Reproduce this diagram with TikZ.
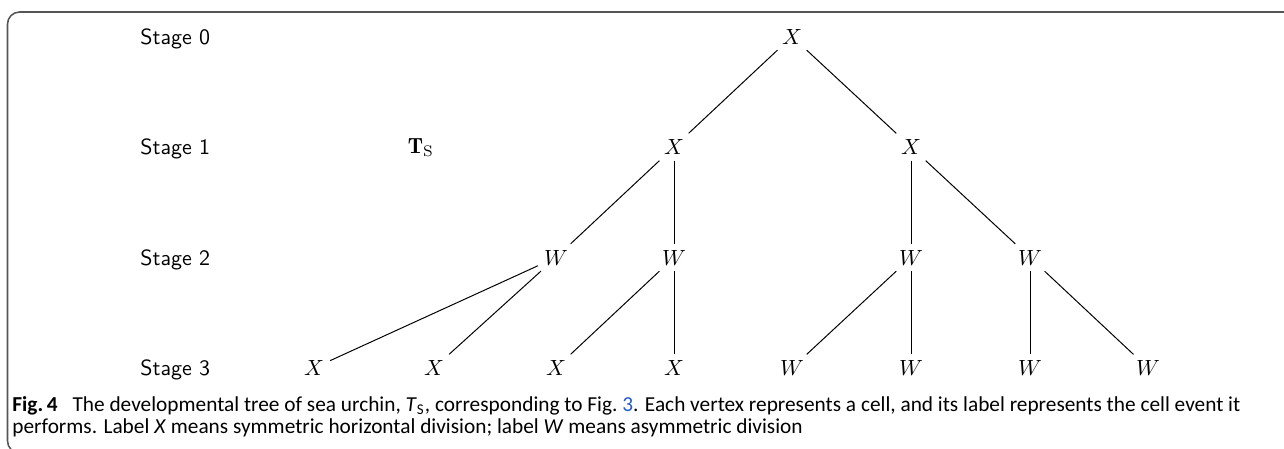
\documentclass[tikz,border=0pt]{standalone}
\usepackage{fontspec}
\newfontfamily\capfont{Carlito}
\definecolor{linkblue}{RGB}{40,90,200}
\definecolor{framegray}{RGB}{85,85,85}
\tikzset{
  vtx/.style={inner sep=2.6pt, font=\normalsize},
  stagelbl/.style={anchor=base west, inner sep=0pt, font=\sffamily},
  edge/.style={line width=0.45pt},
  caption/.style={anchor=base west, inner sep=0pt, font=\capfont\fontsize{9.7pt}{11pt}\selectfont}
}
\begin{document}
\begin{tikzpicture}[x=0.455pt,y=-0.455pt]
\useasboundingbox (0,0) rectangle (1284,448);
\begin{scope}
\clip (0,0) rectangle (1284,448);
\draw[framegray, line width=0.7pt, rounded corners=5.5pt] (1300,12) -- (7.5,12) -- (7.5,453) -- (40,453);
\end{scope}
% stage labels
\node[stagelbl] (s0) at (140,44) {Stage 0};
\node[stagelbl] (s1) at (140,154.5) {Stage 1};
\node[stagelbl] (s2) at (140,265) {Stage 2};
\node[stagelbl] (s3) at (140,375.5) {Stage 3};
\node[inner sep=0pt] (ts) at (421,148) {$\mathbf{T}_{\mathrm{S}}$};
% vertices
\node[vtx] (n0) at (792,36.5) {$X$};
\node[vtx] (n1a) at (674,147) {$X$};
\node[vtx] (n1b) at (911,147) {$X$};
\node[vtx] (n2a) at (556,257.5) {$W$};
\node[vtx] (n2b) at (674,257.5) {$W$};
\node[vtx] (n2c) at (911,257.5) {$W$};
\node[vtx] (n2d) at (1030,257.5) {$W$};
\node[vtx] (n3a) at (314,368) {$X$};
\node[vtx] (n3b) at (434,368) {$X$};
\node[vtx] (n3c) at (556,368) {$X$};
\node[vtx] (n3d) at (674,368) {$X$};
\node[vtx] (n3e) at (792,368) {$W$};
\node[vtx] (n3f) at (911,368) {$W$};
\node[vtx] (n3g) at (1030,368) {$W$};
\node[vtx] (n3h) at (1148,368) {$W$};
% edges
\draw[edge] (n0) -- (n1a);
\draw[edge] (n0) -- (n1b);
\draw[edge] (n1a) -- (n2a);
\draw[edge] (n1a) -- (n2b);
\draw[edge] (n1b) -- (n2c);
\draw[edge] (n1b) -- (n2d);
\draw[edge] (n2a) -- (n3a);
\draw[edge] (n2a) -- (n3b);
\draw[edge] (n2b) -- (n3c);
\draw[edge] (n2b) -- (n3d);
\draw[edge] (n2c) -- (n3e);
\draw[edge] (n2c) -- (n3f);
\draw[edge] (n2d) -- (n3g);
\draw[edge] (n2d) -- (n3h);
% caption
\node[caption] (cap1) at (12,411) {\textbf{Fig.\,4}\hspace{0.7em}The developmental tree of sea urchin, \textit{T}\textsubscript{S}, corresponding to Fig.~\textcolor{linkblue}{3}. Each vertex represents a cell, and its label represents the cell event it};
\node[caption] (cap2) at (12,433) {performs. Label \textit{X} means symmetric horizontal division; label \textit{W} means asymmetric division};
\end{tikzpicture}
\end{document}
